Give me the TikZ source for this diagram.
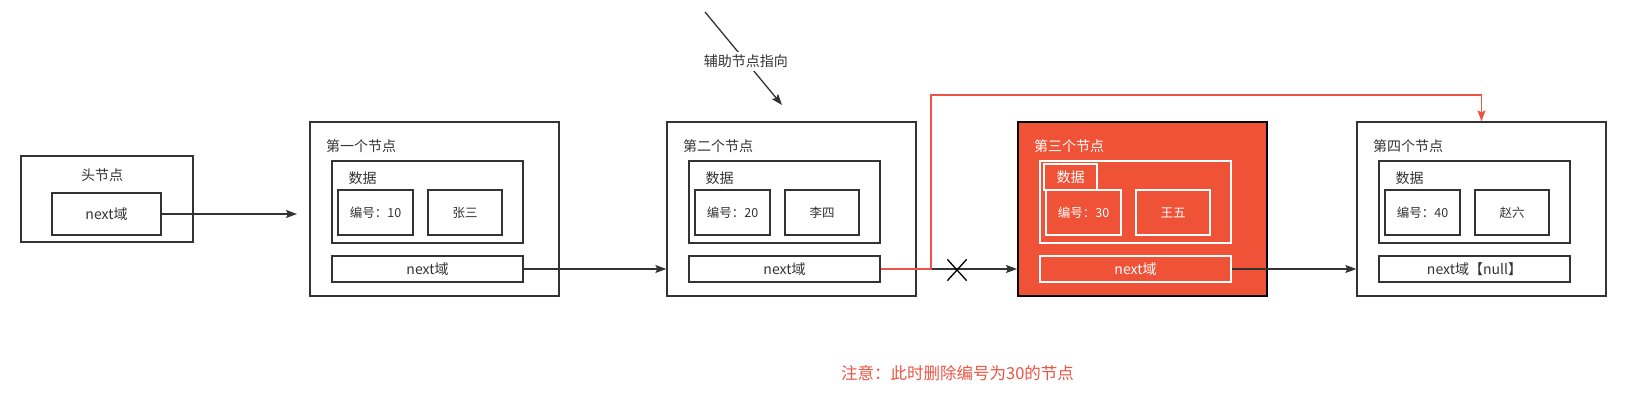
\documentclass[tikz,border=0pt]{standalone}
\usepackage{fontspec}
\setmainfont{Noto Sans CJK SC}
\usetikzlibrary{arrows.meta,shapes.misc}
\definecolor{lc}{HTML}{333333}
\definecolor{rd}{HTML}{F05237}
\definecolor{rdl}{HTML}{EC5443}
\tikzset{
  obox/.style={draw=lc, line width=1.3pt, fill=white, inner sep=0pt},
  ibox/.style={draw=lc, line width=1.3pt, inner sep=0pt, text=lc, font=\fontsize{12.5}{14}\selectfont},
  nbox/.style={draw=lc, line width=1.3pt, inner sep=0pt, text=lc, font=\fontsize{14}{16}\selectfont},
  txt/.style={inner sep=0pt, text=lc, font=\fontsize{14}{16}\selectfont},
  arr/.style={draw=lc, line width=1.3pt, -{Stealth[length=11pt,width=8pt,inset=2pt]}},
  redarr/.style={draw=rdl, line width=1.3pt, -{Stealth[length=11pt,width=8pt,inset=2pt]}},
  curnode/.style={
    obox/.style={draw=black, line width=2pt, fill=rd, inner sep=0pt},
    ibox/.style={draw=white, line width=1.3pt, inner sep=0pt, text=white, font=\fontsize{12.5}{14}\selectfont},
    nbox/.style={draw=white, line width=1.3pt, inner sep=0pt, text=white, font=\fontsize{14}{16}\selectfont},
    txt/.style={inner sep=0pt, text=white, font=\fontsize{14}{16}\selectfont}}
}
% #1 prefix, #2 xshift, #3 title, #4 number, #5 person, #6 next text, #7 scope options
\newcommand\LLnode[7]{%
\begin{scope}[xshift=#2,#7]
\node[obox, minimum width=249, minimum height=174] (#1o) at (434.5,209) {};
\node[ibox, minimum width=191, minimum height=82] (#1d) at (427.5,202) {};
\node[ibox, minimum width=75, minimum height=45] (#1a) at (375.5,212.5) {编号：#4};
\node[ibox, minimum width=74, minimum height=45] (#1b) at (465,212.5) {#5};
\node[nbox, minimum width=191, minimum height=26] (#1n) at (427.5,269) {#6};
\node[txt, anchor=west] (#1t) at (326,146) {#3};
\end{scope}}
\begin{document}
\begin{tikzpicture}[x=1pt,y=-1pt]
\useasboundingbox (0,0) rectangle (1630,403);
% head node
\node[obox, minimum width=172, minimum height=86] (ho) at (107,199) {};
\node[nbox, minimum width=109, minimum height=42] (hn) at (106.5,214) {next域};
\node[txt] (ht) at (102,175) {头节点};
\coordinate (htip) at (297,214);
% list nodes
\LLnode{na}{0}{第一个节点}{10}{张三}{next域}{}
\node[txt, anchor=west] (nal) at (348.5,178) {数据};
\LLnode{nb}{357}{第二个节点}{20}{李四}{next域}{}
\node[txt, anchor=west] (nbl) at (705.5,178) {数据};
\LLnode{nc}{708}{第三个节点}{30}{王五}{next域}{curnode}
\node[draw=white, line width=1.3pt, minimum width=53, minimum height=26, inner sep=0pt, text=white, font=\fontsize{14}{16}\selectfont] (ncl) at (1070.5,177) {数据};
\LLnode{nd}{1047}{第四个节点}{40}{赵六}{next域【null】}{}
\node[txt, anchor=west] (ndl) at (1395.5,178) {数据};
% connectors
\draw[arr] (hn.east) -- (htip);
\draw[arr] (nan.east) -- (nan.east -| nbo.west);
\draw[arr] (nbn.east) -- (nbn.east -| nco.west);
\draw[arr] (ncn.east) -- (ncn.east -| ndo.west);
\coordinate (rc) at (931,95);
\draw[redarr] (nbn.east) -| (rc) -| (ndo.north);
\node[cross out, draw=black, line width=1.3pt, minimum width=18, minimum height=20, inner sep=0pt] (xm) at (957,270) {};
% annotation
\coordinate (as) at (705,12);
\coordinate (ae) at (782,105);
\draw[arr] (as) -- node[pos=0.53, fill=white, inner sep=3pt, text=lc, font=\fontsize{14}{16}\selectfont] (al) {辅助节点指向} (ae);
% note
\node[inner sep=0pt, text=rdl, font=\fontsize{16.5}{18}\selectfont] (note) at (957.5,373) {注意：此时删除编号为30的节点};
\end{tikzpicture}
\end{document}
